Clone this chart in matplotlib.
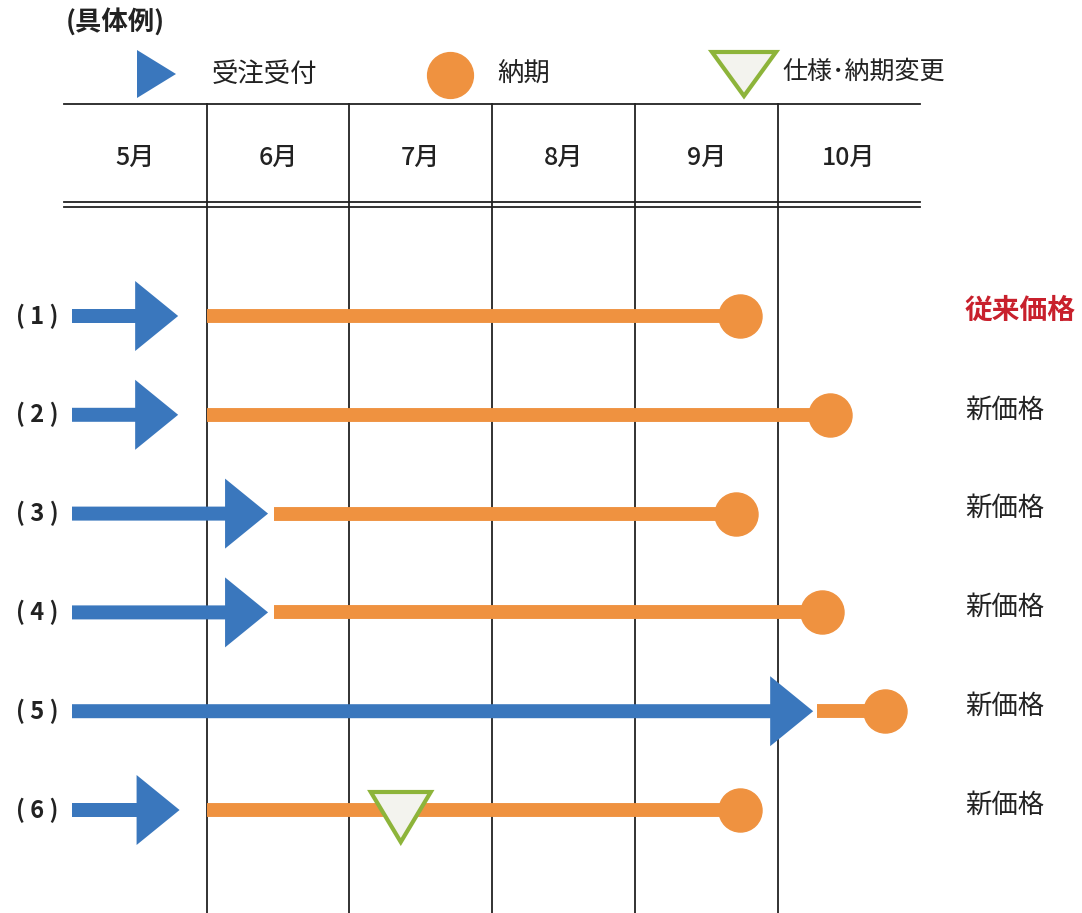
import matplotlib
matplotlib.use('Agg')
import matplotlib.pyplot as plt
from matplotlib.patches import FancyArrow, Polygon

plt.rcParams['font.family'] = ['Noto Sans CJK JP', 'DejaVu Sans']

months = ['5月', '6月', '7月', '8月', '9月', '10月']
rows = ['( 1 )', '( 2 )', '( 3 )', '( 4 )', '( 5 )', '( 6 )']
# positions in month units: 0 = start of May, 1 = start of June, ...
order_at = [0.80, 0.80, 1.43, 1.43, 5.25, 0.81]
line_from = [1.0, 1.0, 1.47, 1.47, 5.28, 1.0]
deliver_at = [4.74, 5.37, 4.71, 5.31, 5.75, 4.74]
change_at = [None, None, None, None, None, 2.36]
price = ['従来価格', '新価格', '新価格', '新価格', '新価格', '新価格']

BLUE = '#3a77bd'
ORANGE = '#ef9240'
GREEN = '#8db43a'
RED = '#c8202c'
INK = '#222222'

# pixel -> data helpers (layout only)
COL, X0 = 142.7, 64
ROW, Y0 = 98.8, 316
def X(px): return (px - X0) / COL
def Y(py): return (py - Y0) / ROW

fig = plt.figure(figsize=(10.82, 9.13), dpi=100)
ax = fig.add_axes([0, 0, 1, 1])
ax.set_xlim(X(0), X(1082))
ax.set_ylim(Y(913), Y(0))
ax.axis('off')

# title + legend
ax.text(X(66), Y(22), '(具体例)', fontsize=19, fontweight='bold', ha='left', va='center', color=INK)
ax.add_patch(Polygon([(X(137), Y(50)), (X(137), Y(98)), (X(176), Y(74))], closed=True,
                     color=BLUE, lw=0))
ax.text(X(212), Y(74), '受注受付', fontsize=19, ha='left', va='center', color=INK)
ax.plot(X(450), Y(75), 'o', ms=33, color=ORANGE)
ax.text(X(497), Y(74), '納期', fontsize=19, ha='left', va='center', color=INK)
ax.add_patch(Polygon([(X(712), Y(52)), (X(776), Y(52)), (X(744), Y(96))], closed=True,
                     facecolor='#f3f3ee', edgecolor=GREEN, lw=3))
ax.text(X(782), Y(72), '仕様･納期変更', fontsize=18, ha='left', va='center', color=INK)

# table header
ax.plot([X(64), X(920)], [Y(104)] * 2, color=INK, lw=1.3)
ax.plot([X(64), X(920)], [Y(202)] * 2, color=INK, lw=1.3)
ax.plot([X(64), X(920)], [Y(207)] * 2, color=INK, lw=1.3)
for k in range(1, len(months)):
    ax.plot([k, k], [Y(104), Y(913)], color=INK, lw=1.3, zorder=1)
for k, m in enumerate(months):
    ax.text(k + 0.5, Y(158), m, fontsize=18, fontweight='medium', ha='center', va='center', color=INK)

# rows
for i in range(len(rows)):
    ax.text(X(37), i, rows[i], fontsize=17, fontweight='bold', ha='center', va='center', color=INK)
    ax.add_patch(FancyArrow(X(72), i, order_at[i] - X(72), 0, width=14 / ROW,
                            head_width=70 / ROW, head_length=43 / COL,
                            length_includes_head=True, color=BLUE, lw=0, zorder=3))
    ax.plot([line_from[i], deliver_at[i]], [i, i], lw=10, color=ORANGE,
            solid_capstyle='butt', zorder=3)
    ax.plot(deliver_at[i], i, 'o', ms=31, color=ORANGE, zorder=4)
    if change_at[i] is not None:
        c = change_at[i]
        ax.add_patch(Polygon([(c - 30 / COL, i - 18 / ROW), (c + 30 / COL, i - 18 / ROW),
                              (c, i + 32 / ROW)], closed=True,
                             facecolor='#f3f3ee', edgecolor=GREEN, lw=3, zorder=5))
    is_old = price[i] == '従来価格'
    ax.text(X(965), i - 0.05, price[i], fontsize=20 if is_old else 19, ha='left', va='center',
            color=RED if is_old else INK, fontweight='bold' if is_old else 'normal')

fig.savefig('out.png', dpi=100, facecolor='white')
